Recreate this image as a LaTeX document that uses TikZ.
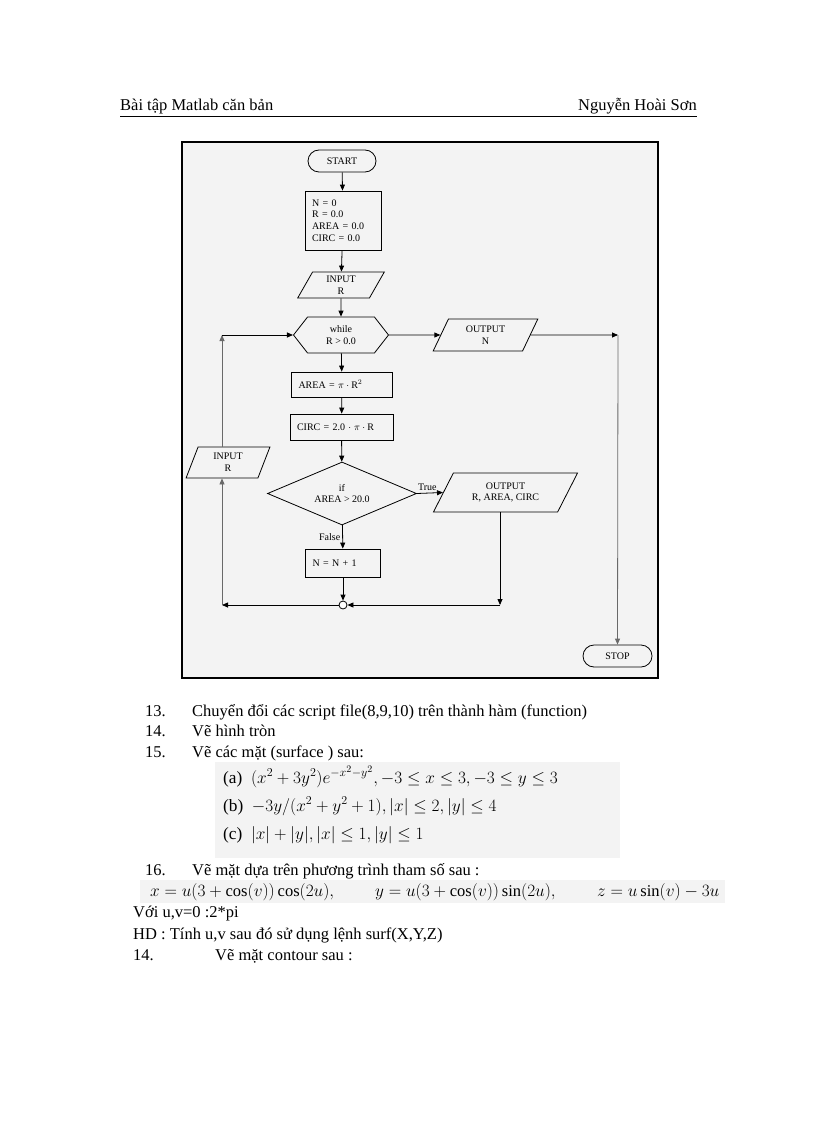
\documentclass[tikz,border=0pt]{standalone}
\usepackage{amsmath,amssymb}
\usepackage{fontspec}
\setmainfont{Liberation Serif}
\usepackage{xcolor}
\usepackage{tikz}
\usetikzlibrary{positioning, arrows.meta, calc, shapes.geometric, shapes.misc, shapes.symbols}
\definecolor{stipple}{RGB}{243,243,243}
\definecolor{loopgray}{RGB}{105,105,105}
\newcommand{\chartfont}{\fontsize{10}{11.6}\selectfont}
\newcommand{\pagefont}{\fontsize{16.5}{19}\selectfont}
\newcommand{\mathfont}{\fontsize{17.28}{20}\selectfont}
\tikzset{
  term/.style={rounded rectangle, draw, line width=0.8pt, minimum width=68pt,
    minimum height=22pt, inner sep=0pt, font=\chartfont},
  proc/.style={rectangle, draw, line width=0.8pt, inner xsep=7pt, inner ysep=0pt,
    align=left, font=\chartfont},
  io/.style={trapezium, trapezium stretches=true, draw, line width=0.8pt,
    inner sep=0pt, align=center, font=\chartfont},
  loopbox/.style={signal, signal to=west and east, signal pointer angle=104, draw,
    line width=0.8pt, inner sep=0pt, align=center, font=\chartfont},
  test/.style={diamond, aspect=2.4, draw, line width=0.8pt, inner sep=0pt,
    align=center, font=\chartfont},
  flow/.style={draw, line width=0.8pt, -{Triangle[length=6pt,width=5pt]}},
  backflow/.style={flow, draw=loopgray},
  text line/.style={anchor=base west, inner sep=0pt, font=\pagefont},
  eq line/.style={anchor=base west, inner sep=0pt, font=\mathfont},
}

\begin{document}
\begin{tikzpicture}[x=1pt, y=-1pt]
  \useasboundingbox (0,0) rectangle (816,1123);
  \fill[white] (0,0) rectangle (816,1123);

  % header
  \node[text line] (title) at (120,111) {Bài tập Matlab căn bản};
  \node[text line, anchor=base east] (author) at (697,111) {Nguyễn Hoài Sơn};
  \draw[line width=1pt] (120,117) -- (697,117);

  % flowchart frame
  \fill[stipple] (182,142) rectangle (658,678);
  \draw[line width=2.4pt] (182,142) rectangle (658,678);

  \node[term] (start) at (342,161) {START};
  \node[proc, minimum width=76pt, minimum height=59pt, text width=62pt] (init) at (343,220.5)
    {N = 0\\R = 0.0\\AREA = 0.0\\CIRC = 0.0};
  \node[io, minimum width=87pt, minimum height=26pt,
    trapezium left angle=67, trapezium right angle=113] (readR) at (341,285) {INPUT\\R};
  \node[loopbox, minimum width=95pt, minimum height=36pt] (loop) at (341,335) {while\\R > 0.0};
  \node[io, minimum width=105pt, minimum height=32pt,
    trapezium left angle=66, trapezium right angle=114] (showN) at (485.5,335) {OUTPUT\\N};
  \node[proc, minimum width=101pt, minimum height=25pt, text width=87pt] (area) at (342,384.5)
    {AREA = $\pi\cdot{}$R$^2$};
  \node[proc, minimum width=103pt, minimum height=26pt, text width=89pt] (circ) at (341.5,427)
    {CIRC = 2.0 $\cdot\;\pi\cdot{}$R};
  \node[test, minimum width=149pt, minimum height=63pt] (check) at (342,493.5) {if\\AREA > 20.0};
  \node[io, minimum width=145pt, minimum height=39pt,
    trapezium left angle=57, trapezium right angle=123] (showAll) at (505.5,492.5)
    {OUTPUT\\R, AREA, CIRC};
  \node[proc, minimum width=75pt, minimum height=28pt, text width=61pt] (count) at (343,563)
    {N = N + 1};
  \node[circle, draw, line width=0.8pt, fill=white, minimum size=8pt, inner sep=0pt] (join) at (343,605) {};
  \node[io, minimum width=84pt, minimum height=31pt,
    trapezium left angle=72, trapezium right angle=108] (readL) at (228,462.5) {INPUT\\R};
  \node[term, minimum width=69pt] (stop) at (617.5,656) {STOP};

  \coordinate (nw) at (222,335);
  \coordinate (ne) at (618,335);
  \coordinate (se) at (500,605);
  \coordinate (sw) at (222,605);

  \draw[flow] (start) -- (init);
  \draw[flow] (init) -- (readR);
  \draw[flow] (readR) -- (loop);
  \draw[flow] (loop) -- (area);
  \draw[flow] (area) -- (circ);
  \draw[flow] (circ) -- (check);
  \draw[flow] (check) -- node[left, font=\chartfont, inner sep=2pt] {False} (count);
  \draw[flow] (count) -- (join);
  \draw[flow] (loop.east) -- (showN.west);
  \draw[flow] (showN.east) -- (ne);
  \draw[backflow] (ne) -- (stop.north);
  \draw[flow] (check.east) -- node[above, font=\chartfont, inner sep=2pt, pos=0.4] {True} (showAll.west);
  \draw[flow] (showAll.south -| se) -- (se);
  \draw[flow] (se) -- (join.east);
  \draw[flow] (join.west) -- (sw);
  \draw[backflow] (sw) -- (sw |- readL.south);
  \draw[backflow] (nw |- readL.north) -- (nw);
  \draw[flow] (nw) -- (loop.west);

  % exercises
  \node[text line] (n13) at (145,716) {13.};
  \node[text line] (t13) at (192,716) {Chuyển đổi các script file(8,9,10) trên thành hàm (function)};
  \node[text line] (n14) at (145,736) {14.};
  \node[text line] (t14) at (192,736) {Vẽ hình tròn};
  \node[text line] (n15) at (145,757) {15.};
  \node[text line] (t15) at (192,757) {Vẽ các mặt (surface ) sau:};

  \fill[stipple] (215,762) rectangle (620,858);
  \node[eq line] (eqa) at (223,783)
    {(a)\enspace$(x^2+3y^2)e^{-x^2-y^2}, -3\leq x\leq 3, -3\leq y\leq 3$};
  \node[eq line] (eqb) at (223,811)
    {(b)\enspace$-3y/(x^2+y^2+1), |x|\leq 2, |y|\leq 4$};
  \node[eq line] (eqc) at (223,839)
    {(c)\enspace$|x|+|y|, |x|\leq 1, |y|\leq 1$};

  \node[text line] (n16) at (145,875) {16.};
  \node[text line] (t16) at (192,875) {Vẽ mặt dựa trên phương trình tham số sau :};
  \fill[stipple] (140,880) rectangle (725,903);
  \node[eq line, font=\pagefont] (eqx) at (150,896) {$x=u(3+\cos(v))\cos(2u),$};
  \node[eq line, font=\pagefont] (eqy) at (375,896) {$y=u(3+\cos(v))\sin(2u),$};
  \node[eq line, font=\pagefont] (eqz) at (597,896) {$z=u\sin(v)-3u$};

  \node[text line] (range) at (133,917) {Với u,v=0 :2*pi};
  \node[text line] (hint) at (133,939) {HD : Tính u,v sau đó sử dụng lệnh surf(X,Y,Z)};
  \node[text line] (n14b) at (133,960) {14.};
  \node[text line] (t14b) at (215,960) {Vẽ mặt contour sau :};
\end{tikzpicture}
\end{document}
